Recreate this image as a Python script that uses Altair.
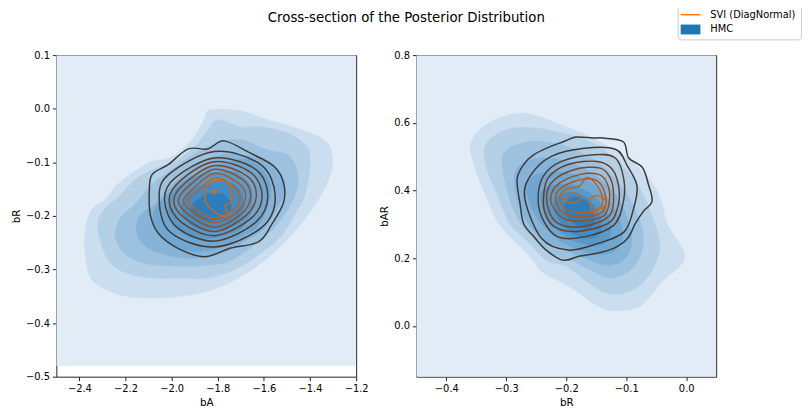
import altair as alt
import pandas as pd

TITLE = "Cross-section of the Posterior Distribution"
LEGEND_LABELS = ["SVI (DiagNormal)", "HMC"]

# ---------------- axes ----------------
L_XDOM = [-2.5, -1.2]
L_YDOM = [-0.5, 0.1]
L_XTICKS = [-2.4, -2.2, -2.0, -1.8, -1.6, -1.4, -1.2]
L_YTICKS = [-0.5, -0.4, -0.3, -0.2, -0.1, 0.0, 0.1]
R_XDOM = [-0.45, 0.05]
R_YDOM = [-0.15, 0.8]
R_XTICKS = [-0.4, -0.3, -0.2, -0.1, 0.0]
R_YTICKS = [0.0, 0.2, 0.4, 0.6, 0.8]

# extent of the KDE evaluation grid (lowest filled level)
L_GRID_X = [-2.5, -1.2]
L_GRID_Y = [-0.48, 0.1]
R_GRID_X = [-0.45, 0.05]
R_GRID_Y = [-0.15, 0.8]

# ---------------- HMC filled density levels (outer -> inner) ----------------
L_HMC_BA = [
    [-1.837, -1.717, -1.602, -1.431, -1.328, -1.303, -1.315, -1.371, -1.457, -1.572, -1.688, -1.799, -1.914, -2.085, -2.226, -2.342, -2.372, -2.376, -2.350, -2.286, -2.226, -2.098, -2.000, -1.914, -1.859],
    [-1.799, -1.700, -1.615, -1.499, -1.414, -1.401, -1.422, -1.465, -1.529, -1.645, -1.743, -1.850, -1.957, -2.072, -2.171, -2.256, -2.299, -2.320, -2.299, -2.226, -2.158, -2.085, -1.987, -1.901, -1.841],
    [-1.807, -1.700, -1.585, -1.499, -1.457, -1.457, -1.495, -1.559, -1.645, -1.743, -1.841, -1.970, -2.098, -2.192, -2.243, -2.226, -2.158, -2.085, -2.000, -1.906],
    [-1.777, -1.628, -1.559, -1.516, -1.516, -1.546, -1.602, -1.688, -1.786, -1.901, -2.000, -2.098, -2.149, -2.141, -2.072, -2.034, -1.978, -1.893],
    [-1.764, -1.670, -1.606, -1.572, -1.581, -1.628, -1.713, -1.807, -1.893, -1.978, -2.042, -2.077, -2.077, -2.030, -1.957, -1.859],
    [-1.871, -1.743, -1.679, -1.649, -1.658, -1.700, -1.786, -1.893, -1.965, -2.008, -2.008, -1.957],
    [-1.850, -1.752, -1.700, -1.688, -1.717, -1.794, -1.880, -1.936, -1.957, -1.923],
    [-1.850, -1.777, -1.743, -1.760, -1.829, -1.893, -1.914],
]
L_HMC_BR = [
    [-0.003, -0.003, -0.018, -0.040, -0.062, -0.090, -0.127, -0.174, -0.224, -0.274, -0.310, -0.334, -0.347, -0.353, -0.347, -0.321, -0.279, -0.233, -0.191, -0.169, -0.138, -0.101, -0.090, -0.059, -0.021],
    [-0.021, -0.034, -0.034, -0.045, -0.071, -0.108, -0.160, -0.196, -0.239, -0.279, -0.303, -0.316, -0.316, -0.316, -0.310, -0.292, -0.261, -0.218, -0.191, -0.163, -0.132, -0.114, -0.099, -0.071, -0.040],
    [-0.064, -0.058, -0.077, -0.086, -0.114, -0.150, -0.187, -0.224, -0.255, -0.283, -0.292, -0.294, -0.290, -0.274, -0.242, -0.206, -0.178, -0.141, -0.114, -0.086],
    [-0.086, -0.090, -0.104, -0.128, -0.160, -0.187, -0.224, -0.248, -0.270, -0.279, -0.275, -0.261, -0.235, -0.202, -0.178, -0.160, -0.136, -0.104],
    [-0.101, -0.095, -0.114, -0.145, -0.178, -0.220, -0.242, -0.261, -0.266, -0.259, -0.242, -0.220, -0.191, -0.165, -0.137, -0.114],
    [-0.123, -0.117, -0.132, -0.160, -0.196, -0.224, -0.239, -0.242, -0.229, -0.206, -0.169, -0.141],
    [-0.141, -0.137, -0.154, -0.182, -0.209, -0.224, -0.224, -0.209, -0.183, -0.156],
    [-0.160, -0.160, -0.178, -0.200, -0.209, -0.202, -0.182],
]

R_HMC_BR = [
    [-0.360, -0.348, -0.327, -0.299, -0.271, -0.238, -0.200, -0.167, -0.106, -0.073, -0.052, -0.040, -0.032, -0.011, -0.003, -0.011, -0.039, -0.060, -0.082, -0.126, -0.151, -0.179, -0.205, -0.238, -0.261, -0.294, -0.315, -0.332, -0.348],
    [-0.337, -0.323, -0.290, -0.249, -0.208, -0.167, -0.126, -0.093, -0.072, -0.055, -0.044, -0.049, -0.068, -0.101, -0.134, -0.167, -0.200, -0.233, -0.266, -0.294, -0.315, -0.332],
    [-0.307, -0.294, -0.262, -0.225, -0.184, -0.142, -0.110, -0.085, -0.072, -0.075, -0.093, -0.126, -0.159, -0.192, -0.225, -0.258, -0.282, -0.299],
    [-0.286, -0.271, -0.238, -0.197, -0.154, -0.118, -0.098, -0.091, -0.105, -0.134, -0.167, -0.208, -0.241, -0.266, -0.282],
    [-0.266, -0.249, -0.216, -0.175, -0.142, -0.118, -0.106, -0.118, -0.147, -0.184, -0.216, -0.241, -0.261],
    [-0.241, -0.221, -0.188, -0.156, -0.134, -0.126, -0.138, -0.167, -0.200, -0.225, -0.238],
    [-0.216, -0.192, -0.164, -0.146, -0.142, -0.159, -0.187, -0.208, -0.220],
    [-0.197, -0.175, -0.156, -0.154, -0.170, -0.192, -0.203],
]
R_HMC_BAR = [
    [0.526, 0.573, 0.602, 0.622, 0.628, 0.614, 0.587, 0.564, 0.506, 0.456, 0.410, 0.360, 0.302, 0.243, 0.206, 0.176, 0.133, 0.089, 0.054, 0.045, 0.063, 0.098, 0.127, 0.156, 0.206, 0.264, 0.310, 0.375, 0.447],
    [0.520, 0.558, 0.584, 0.584, 0.570, 0.549, 0.506, 0.447, 0.389, 0.316, 0.243, 0.194, 0.136, 0.098, 0.098, 0.133, 0.176, 0.194, 0.252, 0.302, 0.389, 0.462],
    [0.491, 0.526, 0.544, 0.541, 0.520, 0.477, 0.418, 0.345, 0.273, 0.214, 0.165, 0.142, 0.165, 0.194, 0.214, 0.264, 0.322, 0.404],
    [0.447, 0.482, 0.497, 0.485, 0.447, 0.389, 0.316, 0.243, 0.194, 0.179, 0.200, 0.229, 0.258, 0.310, 0.375],
    [0.418, 0.447, 0.456, 0.439, 0.398, 0.340, 0.273, 0.223, 0.211, 0.229, 0.258, 0.302, 0.360],
    [0.395, 0.415, 0.415, 0.386, 0.340, 0.281, 0.243, 0.241, 0.264, 0.302, 0.345],
    [0.380, 0.395, 0.375, 0.331, 0.281, 0.258, 0.270, 0.302, 0.345],
    [0.375, 0.378, 0.345, 0.302, 0.287, 0.310, 0.345],
]

# ---------------- SVI (DiagNormal) density contour lines (outer -> inner) ----------------
L_SVI_LEVEL = [0, 1, 2, 3, 4, 5, 6, 7, 8, 9]
L_SVI_BA = [
    [-2.097, -2.085, -2.014, -1.928, -1.843, -1.772, -1.658, -1.558, -1.515, -1.515, -1.565, -1.622, -1.743, -1.857, -1.971, -2.057, -2.092],
    [-2.054, -2.014, -1.814, -1.615, -1.551, -1.608, -1.814, -2.007],
    [-2.031, -1.985, -1.814, -1.636, -1.583, -1.636, -1.814, -1.978],
    [-2.011, -1.964, -1.814, -1.657, -1.608, -1.657, -1.814, -1.957],
    [-1.991, -1.943, -1.814, -1.672, -1.633, -1.679, -1.814, -1.943],
    [-1.971, -1.925, -1.814, -1.693, -1.657, -1.697, -1.814, -1.925],
    [-1.950, -1.907, -1.814, -1.714, -1.679, -1.714, -1.814, -1.907],
    [-1.928, -1.886, -1.814, -1.736, -1.703, -1.732, -1.814, -1.886],
    [-1.854, -1.846, -1.814, -1.757, -1.736, -1.743, -1.769, -1.757, -1.793, -1.828],
    [-1.823, -1.814, -1.806, -1.814],
]
L_SVI_BR = [
    [-0.156, -0.123, -0.104, -0.075, -0.075, -0.060, -0.083, -0.107, -0.138, -0.175, -0.215, -0.248, -0.260, -0.276, -0.261, -0.233, -0.199],
    [-0.169, -0.123, -0.080, -0.104, -0.163, -0.221, -0.258, -0.230],
    [-0.169, -0.129, -0.092, -0.113, -0.163, -0.212, -0.247, -0.221],
    [-0.172, -0.135, -0.099, -0.119, -0.163, -0.205, -0.237, -0.212],
    [-0.172, -0.139, -0.106, -0.126, -0.163, -0.200, -0.229, -0.204],
    [-0.172, -0.144, -0.113, -0.132, -0.163, -0.196, -0.221, -0.198],
    [-0.172, -0.149, -0.121, -0.138, -0.163, -0.192, -0.213, -0.193],
    [-0.172, -0.153, -0.129, -0.144, -0.166, -0.188, -0.205, -0.190],
    [-0.172, -0.144, -0.135, -0.138, -0.159, -0.175, -0.181, -0.199, -0.198, -0.187],
    [-0.155, -0.151, -0.155, -0.159],
]

R_SVI_LEVEL = [0, 1, 2, 3, 4, 5, 6, 7, 8, 8]
R_SVI_BR = [
    [-0.282, -0.271, -0.254, -0.228, -0.205, -0.184, -0.156, -0.139, -0.105, -0.096, -0.073, -0.063, -0.057, -0.072, -0.085, -0.098, -0.121, -0.151, -0.179, -0.205, -0.233, -0.254, -0.271, -0.277],
    [-0.269, -0.260, -0.225, -0.170, -0.118, -0.098, -0.082, -0.088, -0.104, -0.148, -0.197, -0.241],
    [-0.247, -0.238, -0.208, -0.154, -0.118, -0.104, -0.105, -0.121, -0.170, -0.214, -0.238],
    [-0.238, -0.230, -0.197, -0.148, -0.123, -0.112, -0.115, -0.131, -0.181, -0.219, -0.235],
    [-0.233, -0.222, -0.186, -0.145, -0.127, -0.121, -0.126, -0.148, -0.192, -0.222],
    [-0.226, -0.214, -0.178, -0.145, -0.131, -0.128, -0.137, -0.170, -0.203, -0.220],
    [-0.218, -0.206, -0.173, -0.148, -0.136, -0.135, -0.148, -0.181, -0.207],
    [-0.211, -0.200, -0.178, -0.167, -0.155, -0.142, -0.141, -0.154, -0.181, -0.202],
    [-0.202, -0.196, -0.185, -0.176, -0.179, -0.190, -0.199],
    [-0.161, -0.152, -0.140, -0.134, -0.139, -0.148, -0.152, -0.157, -0.160],
]
R_SVI_BAR = [
    [0.433, 0.477, 0.506, 0.529, 0.544, 0.558, 0.555, 0.555, 0.544, 0.497, 0.468, 0.418, 0.369, 0.337, 0.302, 0.258, 0.229, 0.214, 0.206, 0.194, 0.223, 0.264, 0.302, 0.360],
    [0.375, 0.443, 0.501, 0.525, 0.522, 0.472, 0.413, 0.345, 0.277, 0.243, 0.224, 0.258],
    [0.375, 0.443, 0.486, 0.506, 0.496, 0.433, 0.365, 0.297, 0.263, 0.263, 0.311],
    [0.379, 0.438, 0.477, 0.486, 0.462, 0.404, 0.345, 0.302, 0.279, 0.292, 0.331],
    [0.379, 0.428, 0.462, 0.467, 0.438, 0.384, 0.331, 0.305, 0.292, 0.316],
    [0.379, 0.418, 0.447, 0.447, 0.418, 0.370, 0.326, 0.311, 0.316, 0.345],
    [0.379, 0.411, 0.433, 0.428, 0.394, 0.350, 0.329, 0.323, 0.336],
    [0.379, 0.404, 0.413, 0.438, 0.428, 0.394, 0.355, 0.338, 0.336, 0.347],
    [0.377, 0.390, 0.392, 0.382, 0.368, 0.363, 0.367],
    [0.373, 0.384, 0.380, 0.365, 0.349, 0.347, 0.334, 0.340, 0.357],
]

# ---------------- styles ----------------
FONT = "DejaVu Sans"


def lerp_hex(c0, c1, n):
    out = []
    for k in range(n):
        t = k / (n - 1)
        rgb = [round(a + (b - a) * t) for a, b in zip(c0, c1)]
        out.append("#%02x%02x%02x" % tuple(rgb))
    return out


FILL_COLORS = lerp_hex((225, 236, 246), (44, 125, 187), 9)   # light palette of HMC blue
LINE_COLORS = ["#3b3b3b", "#403a36", "#4f3d31", "#653f2b", "#7c4627",
               "#925024", "#a85922", "#bb6220", "#c9691f", "#d3701f"]  # dark palette of SVI orange
LEGEND_COLORS = ["#ff7f0e", "#1f77b4"]
LEGEND_SHAPES = ["M-1.6,-0.15H2.4V0.15H-1.6Z", "M-1.6,-1H2.4V1H-1.6Z"]


def contour_frame(xs_list, ys_list, levels):
    rows = []
    for cid, (xs, ys, lev) in enumerate(zip(xs_list, ys_list, levels)):
        for i, (x, y) in enumerate(zip(xs, ys)):
            rows.append({"cid": cid, "level": lev, "i": i, "x": x, "y": y})
    return pd.DataFrame(rows)


def panel(xdom, ydom, xticks, yticks, xtitle, ytitle, gx, gy,
          hx, hy, sx, sy, slev, legend_layer=None):
    xenc = alt.X("x:Q", scale=alt.Scale(domain=xdom, nice=False, zero=False),
                 axis=alt.Axis(values=xticks, format=".1f", title=xtitle))
    yenc = alt.Y("y:Q", scale=alt.Scale(domain=ydom, nice=False, zero=False),
                 axis=alt.Axis(values=yticks, format=".1f", title=ytitle))
    bg_df = pd.DataFrame({"x": [gx[0]], "x2": [gx[1]], "y": [gy[0]], "y2": [gy[1]]})
    layers = [alt.Chart(bg_df).mark_rect(color=FILL_COLORS[0], clip=True).encode(
        x=xenc, x2="x2:Q", y=yenc, y2="y2:Q")]
    hdf = contour_frame(hx, hy, list(range(1, len(hx) + 1)))
    for k in range(1, len(hx) + 1):
        layers.append(
            alt.Chart(hdf).transform_filter(f"datum.level == {k}")
            .mark_line(interpolate="cardinal-closed", fill=FILL_COLORS[k],
                       stroke=FILL_COLORS[k], strokeWidth=0.6, clip=True)
            .encode(x=xenc, y=yenc, order=alt.Order("i:Q"), detail="cid:N"))
    sdf = contour_frame(sx, sy, slev)
    for k in sorted(set(slev)):
        layers.append(
            alt.Chart(sdf).transform_filter(f"datum.level == {k}")
            .mark_line(interpolate="cardinal-closed", stroke=LINE_COLORS[k],
                       strokeWidth=1.5, clip=True)
            .encode(x=xenc, y=yenc, order=alt.Order("i:Q"), detail="cid:N"))
    if legend_layer is not None:
        layers.append(legend_layer)
    return alt.layer(*layers).properties(width=304, height=326)


leg = alt.Legend(title=None, orient="none", legendX=630, legendY=-52,
                 symbolSize=100, labelOffset=16, labelFont=FONT, labelFontSize=10,
                 labelColor="black", padding=5, rowPadding=4,
                 strokeColor="#cccccc", fillColor="white", cornerRadius=3)
legend_layer = alt.Chart(pd.DataFrame({"series": LEGEND_LABELS})).transform_filter(
    "false").mark_point(filled=True, opacity=1).encode(
    color=alt.Color("series:N", scale=alt.Scale(domain=LEGEND_LABELS, range=LEGEND_COLORS), legend=leg),
    shape=alt.Shape("series:N", scale=alt.Scale(domain=LEGEND_LABELS, range=LEGEND_SHAPES), legend=leg),
)

left = panel(L_XDOM, L_YDOM, L_XTICKS, L_YTICKS, "bA", "bR", L_GRID_X, L_GRID_Y,
             L_HMC_BA, L_HMC_BR, L_SVI_BA, L_SVI_BR, L_SVI_LEVEL)
right = panel(R_XDOM, R_YDOM, R_XTICKS, R_YTICKS, "bR", "bAR", R_GRID_X, R_GRID_Y,
              R_HMC_BR, R_HMC_BAR, R_SVI_BR, R_SVI_BAR, R_SVI_LEVEL, legend_layer)

chart = alt.hconcat(left, right, spacing=61, bounds="flush").properties(
    title=alt.TitleParams(TITLE, font=FONT, fontSize=13.5, fontWeight="normal",
                          color="black", anchor="middle", dy=25),
    padding={"left": 3, "top": -8, "right": 0, "bottom": 0},
    background="white",
).configure_view(stroke="#222222", strokeWidth=1).configure_axis(
    labelFont=FONT, labelFontSize=10, labelColor="black", labelFlush=False,
    labelOverlap=False, titleFont=FONT, titleFontSize=10.5, titleFontWeight="normal",
    titleColor="black", tickColor="#222222", tickSize=4, tickWidth=1,
    domain=False, grid=False, labelPadding=3, titlePadding=4,
)

chart.save("out.html", embed_options={"renderer": "svg", "actions": False})
